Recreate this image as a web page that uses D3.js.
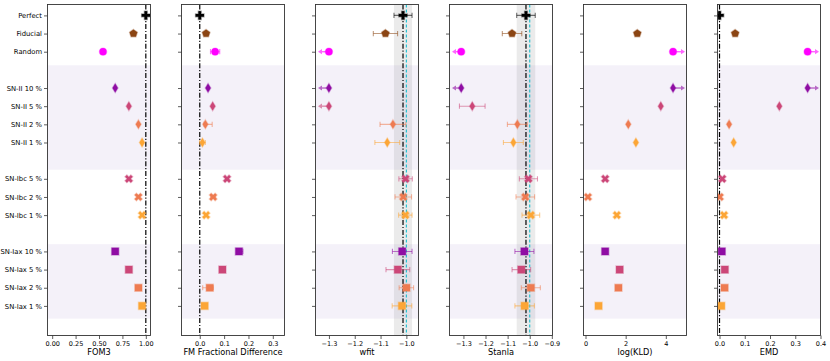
<!DOCTYPE html>
<html>
<head>
<meta charset="utf-8">
<script src="https://cdn.jsdelivr.net/npm/d3@7"></script>
<style>
  body { margin: 0; background: #fff; }
  svg { font-family: "DejaVu Sans", sans-serif; }
</style>
</head>
<body>
<div id="chart"></div>
<script>
const width = 830;
const height = 361;

// ---- data ----
const categories = ["Perfect", "Fiducial", "Random",
  "SN-II 10 %", "SN-II 5 %", "SN-II 2 %", "SN-II 1 %",
  "SN-Ibc 5 %", "SN-Ibc 2 %", "SN-Ibc 1 %",
  "SN-Iax 10 %", "SN-Iax 5 %", "SN-Iax 2 %", "SN-Iax 1 %"];
const groups = ["ref", "ref", "ref", "II", "II", "II", "II", "Ibc", "Ibc", "Ibc", "Iax", "Iax", "Iax", "Iax"];
const shapes = ["plus", "pentagon", "circle", "diamond", "diamond", "diamond", "diamond",
  "x", "x", "x", "square", "square", "square", "square"];
const colors = ["#000000", "#8b4513", "#ff00ff",
  "#8f0da4", "#cc4778", "#ee7b51", "#fca636",
  "#cc4778", "#ee7b51", "#fca636",
  "#8f0da4", "#cc4778", "#ee7b51", "#fca636"];

const fom3 = [1.0, 0.868, 0.543, 0.673, 0.819, 0.921, 0.96, 0.819, 0.921, 0.96, 0.673, 0.819, 0.921, 0.96];

const fmDiff = [0.0, 0.026, 0.063, 0.034, 0.053, 0.023, 0.011, 0.112, 0.055, 0.026, 0.161, 0.093, 0.041, 0.020];
const fmErrLo = [0, 0, 0.019, 0, 0, 0.005, 0.012, 0, 0.010, 0, 0.004, 0, 0.029, 0];
const fmErrHi = [0, 0, 0.019, 0, 0, 0.028, 0.012, 0, 0.010, 0, 0.016, 0, 0.015, 0];

const wfit = [-1.013, -1.081, -1.30, -1.30, -1.30, -1.052, -1.074, -1.003, -1.012, -1.004, -1.016, -1.033, -1.0, -1.017];
const wfitErr = [0.035, 0.047, 0, 0, 0, 0.050, 0.048, 0.026, 0.032, 0.026, 0.038, 0.046, 0.028, 0.038];
const wfitOut = [0, 0, -1, -1, -1, 0, 0, 0, 0, 0, 0, 0, 0, 0];

const stanla = [-1.017, -1.080, -1.31, -1.31, -1.260, -1.056, -1.074, -1.006, -1.020, -0.995, -1.024, -1.038, -0.995, -1.023];
const stanlaErr = [0.042, 0.044, 0, 0, 0.058, 0.045, 0.045, 0.041, 0.042, 0.040, 0.043, 0.042, 0.043, 0.044];
const stanlaOut = [0, 0, -1, -1, 0, 0, 0, 0, 0, 0, 0, 0, 0, 0];

const logKLD = [null, 2.58, 4.36, 4.36, 3.75, 2.13, 2.51, 0.98, 0.12, 1.56, 0.98, 1.70, 1.64, 0.65];
const kldOut = [0, 0, 1, 1, 0, 0, 0, 0, 0, 0, 0, 0, 0, 0];

const emd = [0.0, 0.062, 0.349, 0.349, 0.237, 0.038, 0.056, 0.011, 0.001, 0.018, 0.009, 0.021, 0.020, 0.007];
const emdOut = [0, 0, 1, 1, 0, 0, 0, 0, 0, 0, 0, 0, 0, 0];

const trueW = -1.0;

// shaded row bands (in row units)
const shadeBands = [[2.75, 8.5], [12.6, 16.7]];

// ---- layout ----
const panelLeft = [47.5, 181.5, 315.5, 449.5, 583.5, 717.5];
const panelWidth = 103;
const plotTop = 4.5, plotBottom = 335.5;

// row position: one empty row between groups
const rowPos = [];
let offset = 0;
groups.forEach((g, i) => {
  if (i > 0 && g !== groups[i - 1]) offset += 1;
  rowPos.push(i + offset);
});

const y = d3.scaleLinear().domain([-0.6, 17.63]).range([plotTop, plotBottom]);

const panels = [
  {title: "FOM3", values: fom3, domain: [-0.05, 1.05], ticks: [0, 0.25, 0.5, 0.75, 1], fmt: ".2f", refLine: true},
  {title: "FM Fractional Difference", values: fmDiff, errLo: fmErrLo, errHi: fmErrHi, domain: [-0.075, 0.348], ticks: [0, 0.1, 0.2, 0.3], fmt: ".1f", refLine: true},
  {title: "wfit", values: wfit, errLo: wfitErr, errHi: wfitErr, out: wfitOut, domain: [-1.352, -0.953], ticks: [-1.3, -1.2, -1.1, -1.0], fmt: ".1f", refLine: true, refBand: true, truth: trueW},
  {title: "Stanla", values: stanla, errLo: stanlaErr, errHi: stanlaErr, out: stanlaOut, domain: [-1.363, -0.897], ticks: [-1.3, -1.2, -1.1, -1.0, -0.9], fmt: ".1f", refLine: true, refBand: true, truth: trueW},
  {title: "log(KLD)", values: logKLD, out: kldOut, domain: [-0.1, 5.03], ticks: [0, 2, 4], fmt: "d", refLine: false},
  {title: "EMD", values: emd, out: emdOut, domain: [-0.008, 0.4], ticks: [0, 0.1, 0.2, 0.3, 0.4], fmt: ".1f", refLine: true}
];

// ---- marker shapes ----
const poly = pts => "M" + pts.map(p => p[0].toFixed(2) + "," + p[1].toFixed(2)).join("L") + "Z";

function plusPts(s, w) {
  return [[-w, -s], [w, -s], [w, -w], [s, -w], [s, w], [w, w], [w, s], [-w, s], [-w, w], [-s, w], [-s, -w], [-w, -w]];
}

function markerPath(type) {
  if (type === "circle") return d3.symbol(d3.symbolCircle, Math.PI * 3.6 * 3.6)();
  if (type === "square") return poly([[-3.6, -3.6], [3.6, -3.6], [3.6, 3.6], [-3.6, 3.6]]);
  if (type === "diamond") return poly([[0, -4.4], [2.7, 0], [0, 4.4], [-2.7, 0]]);
  if (type === "pentagon") {
    return poly(d3.range(5).map(k => {
      const a = -Math.PI / 2 + k * 2 * Math.PI / 5;
      return [4.1 * Math.cos(a), 4.1 * Math.sin(a)];
    }));
  }
  if (type === "plus") return poly(plusPts(4.2, 1.4));
  if (type === "x") {
    const r = Math.PI / 4;
    return poly(plusPts(4.1, 1.3).map(p => [p[0] * Math.cos(r) - p[1] * Math.sin(r), p[0] * Math.sin(r) + p[1] * Math.cos(r)]));
  }
}

const svg = d3.select("#chart")
  .append("svg")
  .attr("width", width)
  .attr("height", height);

panels.forEach((p, pi) => {
  const x = d3.scaleLinear().domain(p.domain).range([panelLeft[pi], panelLeft[pi] + panelWidth]);
  const g = svg.append("g");

  const clipId = "clip" + pi;
  g.append("clipPath").attr("id", clipId)
    .append("rect")
    .attr("x", panelLeft[pi]).attr("y", plotTop)
    .attr("width", panelWidth).attr("height", plotBottom - plotTop);

  const plot = g.append("g").attr("clip-path", `url(#${clipId})`);

  // lavender group bands
  plot.selectAll(".band")
    .data(shadeBands)
    .enter()
    .append("rect")
    .attr("x", panelLeft[pi])
    .attr("width", panelWidth)
    .attr("y", d => y(d[0]))
    .attr("height", d => y(d[1]) - y(d[0]))
    .attr("fill", "#f4f1f9");

  // perfect-classifier uncertainty band
  if (p.refBand) {
    const lo = p.values[0] - p.errLo[0], hi = p.values[0] + p.errHi[0];
    plot.append("rect")
      .attr("x", x(lo)).attr("width", x(hi) - x(lo))
      .attr("y", plotTop).attr("height", plotBottom - plotTop)
      .attr("fill", "#808080").attr("fill-opacity", 0.16);
  }

  if (p.refLine) {
    plot.append("line")
      .attr("x1", x(p.values[0])).attr("x2", x(p.values[0]))
      .attr("y1", plotTop).attr("y2", plotBottom)
      .attr("stroke", "#000").attr("stroke-width", 1.2)
      .attr("stroke-dasharray", "5,1.8,1.2,1.8");
  }
  if (p.truth !== undefined) {
    plot.append("line")
      .attr("x1", x(p.truth)).attr("x2", x(p.truth))
      .attr("y1", plotTop).attr("y2", plotBottom)
      .attr("stroke", "#17becf").attr("stroke-width", 1.1)
      .attr("stroke-dasharray", "3,2");
  }

  const idx = d3.range(categories.length).filter(i => p.values[i] !== null);

  // error bars
  if (p.errLo) {
    idx.filter(i => p.errLo[i] > 0 || p.errHi[i] > 0).forEach(i => {
      const yy = y(rowPos[i]);
      const x0 = x(p.values[i] - p.errLo[i]), x1 = x(p.values[i] + p.errHi[i]);
      const eb = plot.append("g")
        .attr("stroke", colors[i])
        .attr("stroke-opacity", 0.55)
        .attr("stroke-width", 1.1);
      eb.append("line").attr("x1", x0).attr("x2", x1).attr("y1", yy).attr("y2", yy);
      eb.append("line").attr("x1", x0).attr("x2", x0).attr("y1", yy - 2.6).attr("y2", yy + 2.6);
      eb.append("line").attr("x1", x1).attr("x2", x1).attr("y1", yy - 2.6).attr("y2", yy + 2.6);
    });
  }

  // out-of-range arrows
  if (p.out) {
    idx.filter(i => p.out[i] !== 0).forEach(i => {
      const yy = y(rowPos[i]);
      const xs = x(p.values[i]);
      const dir = p.out[i];
      const xe = dir < 0 ? panelLeft[pi] + 2.5 : panelLeft[pi] + panelWidth - 1.5;
      const ag = plot.append("g").attr("opacity", 0.6);
      ag.append("line")
        .attr("x1", xs).attr("x2", xe - dir * 3)
        .attr("y1", yy).attr("y2", yy)
        .attr("stroke", colors[i]).attr("stroke-width", 1.4);
      ag.append("path")
        .attr("d", poly([[xe, yy], [xe - dir * 4, yy - 2.6], [xe - dir * 4, yy + 2.6]]))
        .attr("fill", colors[i]);
    });
  }

  // markers
  plot.selectAll(".marker")
    .data(idx)
    .enter()
    .append("path")
    .attr("class", "marker")
    .attr("d", i => markerPath(shapes[i]))
    .attr("transform", i => `translate(${x(p.values[i])},${y(rowPos[i])})`)
    .attr("fill", i => colors[i])
    .attr("stroke", i => colors[i])
    .attr("stroke-opacity", 0.35)
    .attr("stroke-width", 1.4);

  // axes
  const xAxis = d3.axisBottom(x)
    .tickValues(p.ticks)
    .tickFormat(d3.format(p.fmt))
    .tickSize(3.5)
    .tickPadding(2);
  const gx = g.append("g")
    .attr("transform", `translate(0,${plotBottom})`)
    .call(xAxis);
  gx.select(".domain").remove();
  gx.selectAll("text").attr("font-size", 6.5).attr("fill", "#000").attr("font-family", "DejaVu Sans");
  gx.selectAll("line").attr("stroke", "#333").attr("stroke-width", 0.8);

  const yAxis = d3.axisLeft(y)
    .tickValues(rowPos)
    .tickFormat(pi === 0 ? (d => categories[rowPos.indexOf(d)]) : "")
    .tickSize(3.5)
    .tickPadding(2);
  const gy = g.append("g")
    .attr("transform", `translate(${panelLeft[pi]},0)`)
    .call(yAxis);
  gy.select(".domain").remove();
  gy.selectAll("text").attr("font-size", 6.8).attr("fill", "#000").attr("font-family", "DejaVu Sans");
  gy.selectAll("line").attr("stroke", "#333").attr("stroke-width", 0.8);

  // frame
  g.append("rect")
    .attr("x", panelLeft[pi]).attr("y", plotTop)
    .attr("width", panelWidth).attr("height", plotBottom - plotTop)
    .attr("fill", "none")
    .attr("stroke", "#333")
    .attr("stroke-width", 0.9);

  g.append("text")
    .attr("x", panelLeft[pi] + panelWidth / 2)
    .attr("y", 355)
    .attr("text-anchor", "middle")
    .attr("font-size", 8.2)
    .text(p.title);
});
</script>
</body>
</html>
